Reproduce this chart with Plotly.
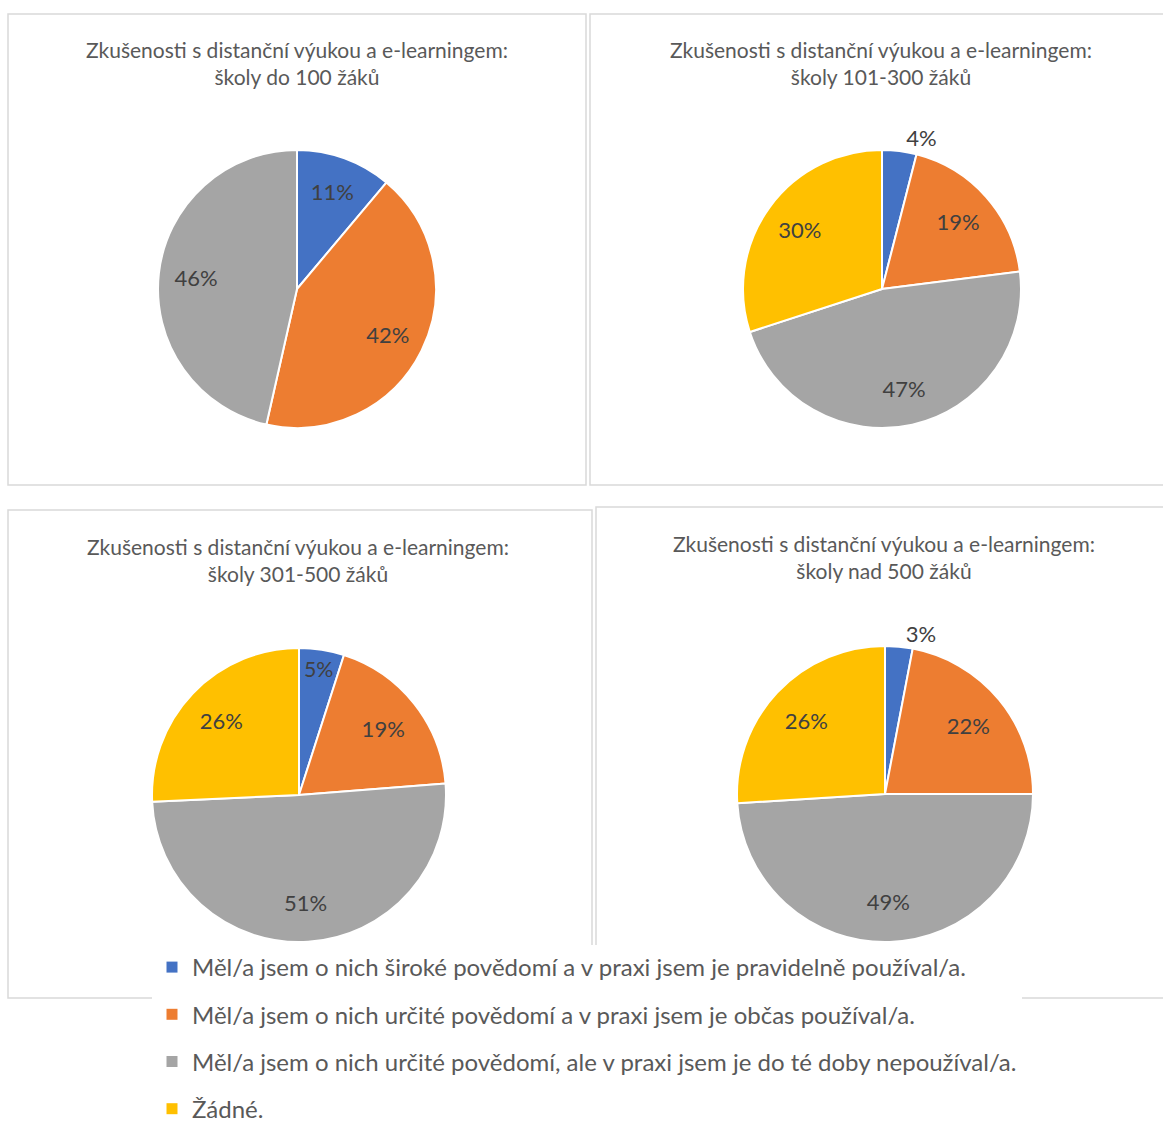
import plotly.graph_objects as go

# Survey categories (shared by all four charts)
categories = [
    "Měl/a jsem o nich široké povědomí a v praxi jsem je pravidelně používal/a.",
    "Měl/a jsem o nich určité povědomí a v praxi jsem je občas používal/a.",
    "Měl/a jsem o nich určité povědomí, ale v praxi jsem je do té doby nepoužíval/a.",
    "Žádné.",
]
colors = ["#4472C4", "#ED7D31", "#A5A5A5", "#FFC000"]

title_main = "Zkušenosti s distanční výukou a e-learningem:"
group_titles = [
    "školy do 100 žáků",
    "školy 101-300 žáků",
    "školy 301-500 žáků",
    "školy nad 500 žáků",
]

# Percent shares per school size
values_100 = [11, 42, 46]
values_101_300 = [4, 19, 47, 30]
values_301_500 = [5, 19, 51, 26]
values_500 = [3, 22, 49, 26]

W, H = 1163, 1122
FONT = "Lato"
TEXT_GREY = "#595959"
LABEL_GREY = "#404040"
LABEL_FONT = dict(family=FONT, size=22, color=LABEL_GREY)
# transparent ring used only to carry the labels further out from the centre
LABEL_RING_HOLE = 0.46


def px_domain(cx, cy, r):
    """Square domain (paper fractions) for a pie centred at pixel (cx, cy)."""
    return dict(x=[(cx - r) / W, (cx + r) / W],
                y=[1 - (cy + r) / H, 1 - (cy - r) / H])


# label placement per slice: "ring" = mid-ring label, otherwise a plain pie text position
panels = [
    # (values, pie centre/radius in px, label placement, panel frame, title centre)
    (values_100, (297, 289, 139), ["ring", "ring", "ring"],
     (8, 14, 586, 485), (297, 50)),
    (values_101_300, (882, 289, 139), ["outside", "ring", "ring", "ring"],
     (590, 14, 1175, 485), (881, 50)),
    (values_301_500, (299, 795, 147), ["inside", "ring", "ring", "ring"],
     (8, 510, 592, 998), (298, 547)),
    (values_500, (885, 794, 148), ["outside", "ring", "ring", "ring"],
     (596, 507, 1175, 998), (884, 544)),
]

fig = go.Figure()
shapes = []
annotations = []

for (vals, (cx, cy, r), place, (x0, y0, x1, y1), (tx, ty)), sub in zip(panels, group_titles):
    n = len(vals)
    dom = px_domain(cx, cy, r)
    # coloured slices
    fig.add_trace(go.Pie(
        labels=categories[:n],
        values=vals,
        marker=dict(colors=colors[:n], line=dict(color="white", width=2)),
        sort=False, direction="clockwise", rotation=0,
        domain=dom,
        texttemplate="%{value}%",
        textposition=[p if p != "ring" else "none" for p in place],
        insidetextorientation="horizontal",
        textfont=LABEL_FONT, outsidetextfont=LABEL_FONT,
        hoverinfo="label+value",
        showlegend=False,
    ))
    # value labels on a transparent ring over the same slices
    fig.add_trace(go.Pie(
        labels=categories[:n],
        values=vals,
        hole=LABEL_RING_HOLE,
        marker=dict(colors=["rgba(0,0,0,0)"] * n, line=dict(width=0)),
        sort=False, direction="clockwise", rotation=0,
        domain=dom,
        texttemplate="%{value}%",
        textposition=["inside" if p == "ring" else "none" for p in place],
        insidetextorientation="horizontal",
        textfont=LABEL_FONT,
        hoverinfo="skip",
        showlegend=False,
    ))
    # chart frame
    shapes.append(dict(type="rect", xref="paper", yref="paper",
                       x0=x0 / W, x1=x1 / W, y0=1 - y1 / H, y1=1 - y0 / H,
                       line=dict(color="#D9D9D9", width=1.5),
                       fillcolor="rgba(0,0,0,0)", layer="below"))
    # chart title
    annotations.append(dict(text=f"{title_main}<br>{sub}", xref="paper", yref="paper",
                            x=tx / W, y=1 - (ty - 15) / H, xanchor="center", yanchor="top",
                            showarrow=False, align="center",
                            font=dict(family=FONT, size=21, color=TEXT_GREY)))

# Legend entries (one group each so the rows are spaced apart)
for i, (cat, col) in enumerate(zip(categories, colors)):
    fig.add_trace(go.Scatter(
        x=[None], y=[None], mode="markers", name=cat,
        marker=dict(symbol="square", size=11, color=col),
        legendgroup=f"g{i}", showlegend=True, hoverinfo="skip",
    ))

fig.update_layout(
    width=W, height=H,
    margin=dict(l=0, r=0, t=0, b=0, autoexpand=False),
    paper_bgcolor="white", plot_bgcolor="white",
    xaxis=dict(visible=False), yaxis=dict(visible=False),
    shapes=shapes,
    annotations=annotations,
    legend=dict(
        x=152 / W, y=1 - 945 / H, xanchor="left", yanchor="top",
        bgcolor="white", borderwidth=0,
        font=dict(family=FONT, size=24, color=TEXT_GREY),
        tracegroupgap=13, itemclick=False, itemdoubleclick=False,
    ),
)

fig.write_html("out.html")
